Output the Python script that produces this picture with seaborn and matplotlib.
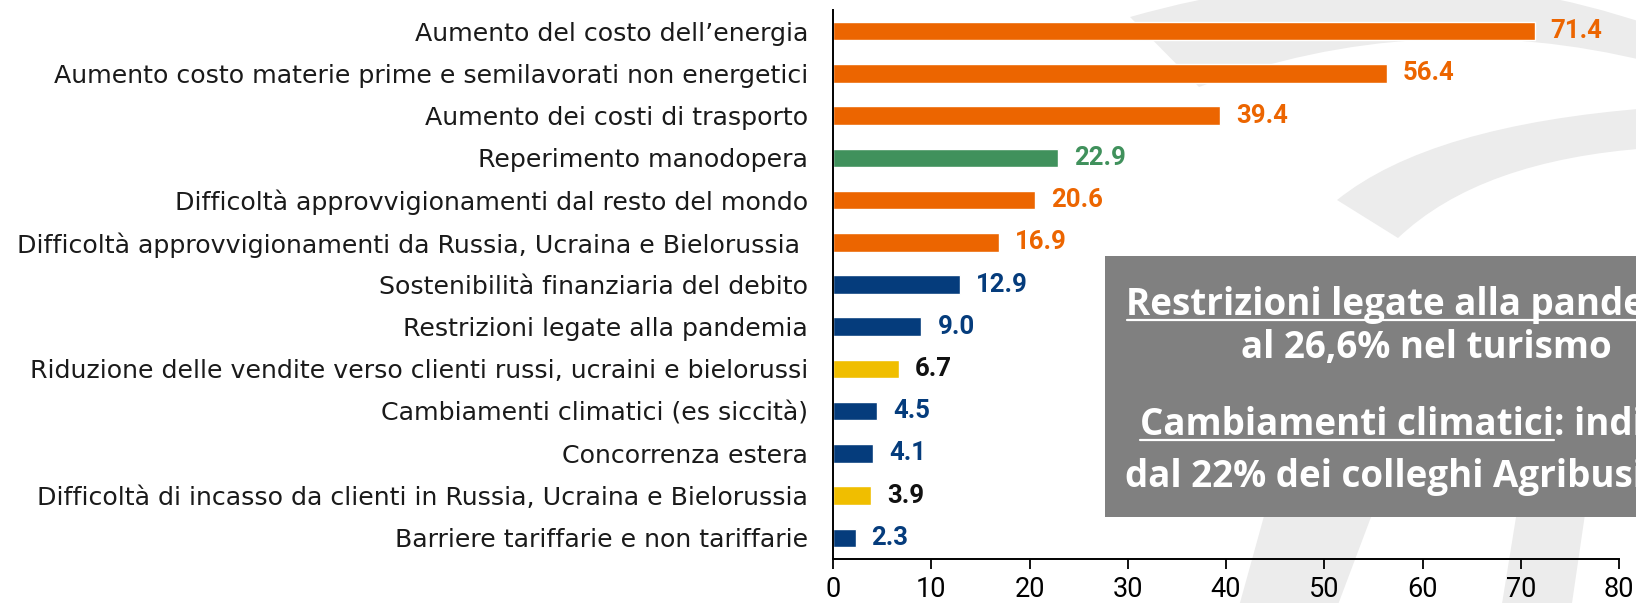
import matplotlib
matplotlib.use("Agg")
import matplotlib.pyplot as plt
import seaborn as sns
import pandas as pd
from matplotlib import font_manager
from matplotlib.path import Path
from matplotlib.patches import PathPatch, Rectangle
from matplotlib.lines import Line2D

# ---- data ----
categories = [
    "Aumento del costo dell\u2019energia",
    "Aumento costo materie prime e semilavorati non energetici",
    "Aumento dei costi di trasporto",
    "Reperimento manodopera",
    "Difficolt\u00e0 approvvigionamenti dal resto del mondo",
    "Difficolt\u00e0 approvvigionamenti da Russia, Ucraina e Bielorussia ",
    "Sostenibilit\u00e0 finanziaria del debito",
    "Restrizioni legate alla pandemia",
    "Riduzione delle vendite verso clienti russi, ucraini e bielorussi",
    "Cambiamenti climatici (es siccit\u00e0)",
    "Concorrenza estera",
    "Difficolt\u00e0 di incasso da clienti in Russia, Ucraina e Bielorussia",
    "Barriere tariffarie e non tariffarie",
]
values = [71.4, 56.4, 39.4, 22.9, 20.6, 16.9, 12.9, 9.0, 6.7, 4.5, 4.1, 3.9, 2.3]
groups = ["costi", "costi", "costi", "lavoro", "costi", "costi", "altro",
          "altro", "vendite", "altro", "altro", "vendite", "altro"]
tick_values = [0, 10, 20, 30, 40, 50, 60, 70, 80]

note_lines = [
    "Restrizioni legate alla pandemia:",
    "al 26,6% nel turismo",
    "Cambiamenti climatici: indicati",
    "dal 22% dei colleghi Agribusiness",
]
note_underlined = [
    "Restrizioni legate alla pandemia",
    "",
    "Cambiamenti climatici",
    "",
]

# ---- styling ----
bar_colors = {"costi": "#EC6500", "lavoro": "#40915C",
              "altro": "#053C7C", "vendite": "#F0BE00"}
label_colors = {"costi": "#EC6500", "lavoro": "#40915C",
                "altro": "#053C7C", "vendite": "#111111"}

W, H = 1636, 603
sns.set_theme(style="white")
plt.rcParams["font.family"] = ["DejaVu Sans"]

installed = {f.name for f in font_manager.fontManager.ttflist}
tick_font = "Liberation Sans Narrow" if "Liberation Sans Narrow" in installed else "Roboto"

fig = plt.figure(figsize=(W / 100, H / 100), dpi=100, facecolor="white")


def fx(x):
    return x / W


def fy(y):
    return 1 - y / H


# faint background logo bands
wm_color = "#ECECEC"
band_paths = [
    # upper arc
    ([(1130, 17), (1199, 87), (1420, 5), (1650, 62), (1650, 25), (1400, -60), (1130, 17)],
     [Path.MOVETO, Path.LINETO, Path.CURVE3, Path.CURVE3, Path.LINETO, Path.CURVE3, Path.CURVE3]),
    # middle arc
    ([(1337, 200), (1430, 125), (1650, 108), (1650, 148), (1480, 160), (1398, 238), (1337, 200)],
     [Path.MOVETO, Path.CURVE3, Path.CURVE3, Path.LINETO, Path.CURVE3, Path.CURVE3, Path.CLOSEPOLY]),
    # lower strokes
    ([(1274, 480), (1385, 480), (1336, 610), (1238, 610), (1274, 480)],
     [Path.MOVETO, Path.LINETO, Path.LINETO, Path.LINETO, Path.CLOSEPOLY]),
    ([(1522, 480), (1590, 480), (1571, 610), (1501, 610), (1522, 480)],
     [Path.MOVETO, Path.LINETO, Path.LINETO, Path.LINETO, Path.CLOSEPOLY]),
]
for pts, codes in band_paths:
    p = Path([(fx(x), fy(y)) for x, y in pts], codes)
    fig.add_artist(PathPatch(p, facecolor=wm_color, edgecolor="none",
                             transform=fig.transFigure, zorder=-5))

ax = fig.add_axes([fx(833), fy(559), (1619 - 833) / W, (559 - 10) / H])
ax.patch.set_alpha(0)

df = pd.DataFrame({"categoria": categories, "valore": values, "gruppo": groups})
sns.barplot(data=df, x="valore", y="categoria", hue="gruppo", palette=bar_colors,
            dodge=False, width=0.44, saturation=1, legend=False, orient="h", ax=ax)

ax.set_xlim(0, 80)
ax.set_ylim(12.5, -0.5)
ax.set_xticks(tick_values)
ax.set_xticklabels([str(t) for t in tick_values], fontfamily=tick_font, fontsize=19.5)
ax.set_xlabel("")
ax.set_ylabel("")

for side in ("top", "right"):
    ax.spines[side].set_visible(False)
for side in ("left", "bottom"):
    ax.spines[side].set_color("black")
    ax.spines[side].set_linewidth(1.4)

ax.tick_params(axis="x", bottom=True, length=7, width=1.3, color="black",
               direction="out", pad=5, labelcolor="black")
ax.tick_params(axis="y", left=False, pad=12, labelsize=18.2, labelcolor="#1a1a1a")

# value labels
for i, (v, g) in enumerate(zip(values, groups)):
    ax.annotate(f"{v:.1f}", xy=(v, i), xytext=(11.5, 0), textcoords="offset points",
                ha="left", va="center", fontfamily="Roboto", fontweight="bold",
                fontsize=18.5, color=label_colors[g])

# annotation box
fig.add_artist(Rectangle((fx(1105), fy(517)), fx(1760 - 1105), (517 - 256) / H,
                         facecolor="#808080", edgecolor="none",
                         transform=fig.transFigure, zorder=5))

baselines = [315, 358, 435, 487]
center_x = 1426
text_kw = dict(fontfamily="Open Sans", fontweight="bold", fontsize=26.5, color="white",
               ha="center", va="baseline", zorder=6)
renderer = fig.canvas.get_renderer()
for line, under, base in zip(note_lines, note_underlined, baselines):
    t = fig.text(fx(center_x), fy(base), line, **text_kw)
    if under:
        bb = t.get_window_extent(renderer)
        probe = fig.text(0, 0, under, **{**text_kw, "ha": "left"})
        sw = probe.get_window_extent(renderer).width
        probe.remove()
        yl = fy(base + 5)
        fig.add_artist(Line2D([fx(bb.x0), fx(bb.x0 + sw)], [yl, yl], color="white",
                              linewidth=1.6, transform=fig.transFigure, zorder=7))

fig.savefig("out.png", dpi=100, facecolor="white")
